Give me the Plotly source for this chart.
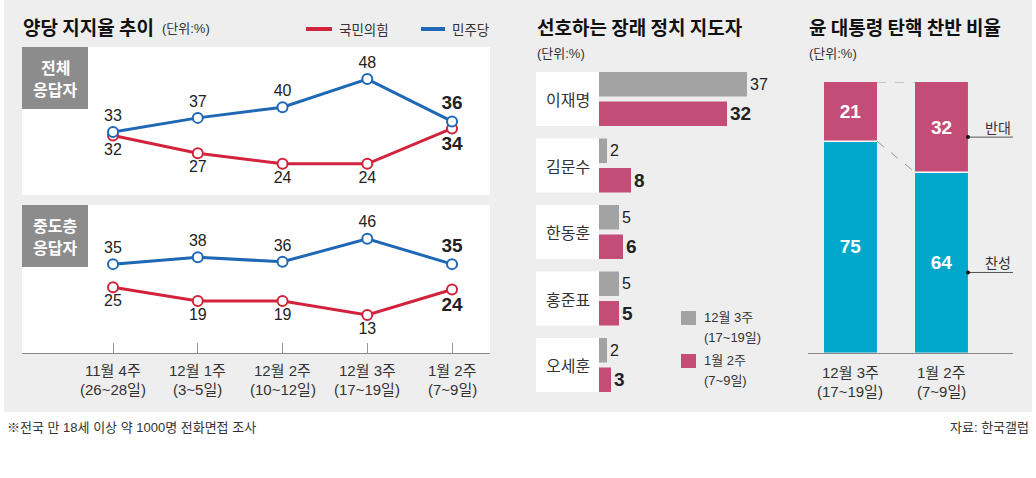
import plotly.graph_objects as go

W, H = 1036, 478

# ---------------- data ----------------
weeks = ["11월 4주", "12월 1주", "12월 2주", "12월 3주", "1월 2주"]
week_dates = ["(26~28일)", "(3~5일)", "(10~12일)", "(17~19일)", "(7~9일)"]
all_dem = [33, 37, 40, 48, 36]
all_ppp = [32, 27, 24, 24, 34]
mid_dem = [35, 38, 36, 46, 35]
mid_ppp = [25, 19, 19, 13, 24]

leaders = ["이재명", "김문수", "한동훈", "홍준표", "오세훈"]
leader_dec = [37, 2, 5, 5, 2]
leader_jan = [32, 8, 6, 5, 3]
leader_legend = [("12월 3주", "(17~19일)"), ("1월 2주", "(7~9일)")]

imp_periods = ["12월 3주", "1월 2주"]
imp_dates = ["(17~19일)", "(7~9일)"]
imp_for = [75, 64]
imp_against = [21, 32]

# ---------------- style ----------------
BLUE = "#1f68b5"
RED = "#d2233d"
PINK = "#c34d76"
GRAYBAR = "#a3a3a3"
TEAL = "#02a8cc"
BG = "#eeeeee"
LABELBOX = "#8c8c8c"
TXT = "#222222"
KR = "Noto Sans CJK KR, sans-serif"
NUM = "Liberation Sans, Arial, Noto Sans CJK KR, sans-serif"


def X(px):
    return px / W


def Y(py):
    return 1 - py / H


fig = go.Figure()


# ---------------- line charts ----------------
def line_trace(vals, color, xa, ya, pos):
    text = [str(v) for v in vals[:-1]] + [f"<b>{vals[-1]}</b>"]
    sizes = [16] * (len(vals) - 1) + [19]
    return go.Scatter(
        x=weeks, y=vals, xaxis=xa, yaxis=ya,
        mode="lines+markers+text",
        line=dict(color=color, width=3),
        marker=dict(symbol="circle", size=10, color="white",
                    line=dict(color=color, width=2)),
        text=text, textposition=pos,
        textfont=dict(size=sizes, color=TXT, family=NUM),
        cliponaxis=False, hoverinfo="skip",
    )


fig.add_trace(line_trace(all_ppp, RED, "x", "y", "bottom center"))
fig.add_trace(line_trace(all_dem, BLUE, "x", "y", "top center"))
fig.add_trace(line_trace(mid_ppp, RED, "x2", "y2", "bottom center"))
fig.add_trace(line_trace(mid_dem, BLUE, "x2", "y2", "top center"))

# ---------------- leaders bar chart ----------------
fig.add_trace(go.Bar(
    y=leaders, x=leader_dec, orientation="h", xaxis="x3", yaxis="y3",
    marker=dict(color=GRAYBAR, line=dict(width=0)),
    text=[str(v) for v in leader_dec], textposition="outside",
    textfont=dict(size=16, color=TXT, family=NUM),
    constraintext="none", cliponaxis=False, hoverinfo="skip",
))
fig.add_trace(go.Bar(
    y=leaders, x=leader_jan, orientation="h", xaxis="x3", yaxis="y3",
    marker=dict(color=PINK, line=dict(width=0)),
    text=[f"<b>{v}</b>" for v in leader_jan], textposition="outside",
    textfont=dict(size=19, color=TXT, family=NUM),
    constraintext="none", cliponaxis=False, hoverinfo="skip",
))

# ---------------- impeachment stacked bars ----------------
BW = 0.582
fig.add_trace(go.Bar(
    x=imp_periods, y=imp_for, xaxis="x4", yaxis="y4",
    width=BW, offset=-BW / 2,
    marker=dict(color=TEAL, line=dict(width=0)),
    text=[f"<b>{v}</b>" for v in imp_for], textposition="inside",
    insidetextanchor="middle", textangle=0,
    textfont=dict(size=19, color="white", family=NUM),
    hoverinfo="skip",
))
fig.add_trace(go.Bar(
    x=imp_periods, y=imp_against, base=imp_for, xaxis="x4", yaxis="y4",
    width=BW, offset=-BW / 2,
    marker=dict(color=PINK, line=dict(width=0)),
    text=[f"<b>{v}</b>" for v in imp_against], textposition="inside",
    insidetextanchor="middle", textangle=0,
    textfont=dict(size=19, color="white", family=NUM),
    hoverinfo="skip",
))

shapes = []
ann = []

# background panel
shapes.append(dict(type="rect", xref="paper", yref="paper", layer="below",
                   x0=X(4), x1=X(1032), y0=Y(412), y1=Y(0),
                   fillcolor=BG, line=dict(width=0)))

# white boxes of line charts + grey label boxes
for top, bot, lab_bot, (l1, l2) in [(47, 195, 109, ("전체", "응답자")),
                                    (205, 353, 267, ("중도층", "응답자"))]:
    shapes.append(dict(type="rect", xref="paper", yref="paper", layer="below",
                       x0=X(22), x1=X(490), y0=Y(bot), y1=Y(top),
                       fillcolor="white", line=dict(width=0)))
    shapes.append(dict(type="rect", xref="paper", yref="paper", layer="below",
                       x0=X(22), x1=X(88), y0=Y(lab_bot), y1=Y(top),
                       fillcolor=LABELBOX, line=dict(width=0)))
    mid = (top + lab_bot) / 2
    for txt, dy in [(l1, -11), (l2, 11)]:
        ann.append(dict(xref="paper", yref="paper", x=X(55), y=Y(mid + dy),
                        text=f"<b>{txt}</b>", showarrow=False, xanchor="center",
                        yanchor="middle", font=dict(size=16, color="white", family=KR)))

# x labels for line charts
for w, d in zip(weeks, week_dates):
    ann.append(dict(xref="x2", yref="paper", x=w, y=Y(370), text=w, showarrow=False,
                    xanchor="center", yanchor="middle",
                    font=dict(size=15, color="#333", family=NUM)))
    ann.append(dict(xref="x2", yref="paper", x=w, y=Y(389), text=d, showarrow=False,
                    xanchor="center", yanchor="middle",
                    font=dict(size=15, color="#333", family=NUM)))

# left title & legend
ann.append(dict(xref="paper", yref="paper", x=X(21), y=Y(27), text="<b>양당 지지율 추이</b>",
                showarrow=False, xanchor="left", yanchor="middle",
                font=dict(size=19, color="#111", family=KR)))
ann.append(dict(xref="paper", yref="paper", x=X(160), y=Y(28), text="(단위:%)",
                showarrow=False, xanchor="left", yanchor="middle",
                font=dict(size=13, color="#333", family=NUM)))
for x0, x1, col, lab in [(306, 332, RED, "국민의힘"), (421, 445, BLUE, "민주당")]:
    shapes.append(dict(type="line", xref="paper", yref="paper", x0=X(x0), x1=X(x1),
                       y0=Y(29), y1=Y(29), line=dict(color=col, width=4)))
    ann.append(dict(xref="paper", yref="paper", x=X(x1 + 5), y=Y(29), text=lab,
                    showarrow=False, xanchor="left", yanchor="middle",
                    font=dict(size=13.5, color="#333", family=KR)))

# middle title
ann.append(dict(xref="paper", yref="paper", x=X(535), y=Y(27), text="<b>선호하는 장래 정치 지도자</b>",
                showarrow=False, xanchor="left", yanchor="middle",
                font=dict(size=19, color="#111", family=KR)))
ann.append(dict(xref="paper", yref="paper", x=X(535), y=Y(53), text="(단위:%)",
                showarrow=False, xanchor="left", yanchor="middle",
                font=dict(size=13, color="#333", family=NUM)))

# name boxes
HALF = 0.406
for i, name in enumerate(leaders):
    shapes.append(dict(type="rect", xref="paper", yref="y3", layer="below",
                       x0=X(536), x1=X(599), y0=i - HALF, y1=i + HALF,
                       fillcolor="white", line=dict(width=0)))
    ann.append(dict(xref="paper", yref="y3", x=X(567.5), y=name, text=name,
                    showarrow=False, xanchor="center", yanchor="middle",
                    font=dict(size=16, color="#333", family=KR)))

# middle legend
for (l1, l2), col, top in zip(leader_legend, [GRAYBAR, PINK], [311, 354]):
    shapes.append(dict(type="rect", xref="paper", yref="paper",
                       x0=X(681), x1=X(696), y0=Y(top + 14), y1=Y(top),
                       fillcolor=col, line=dict(width=0)))
    ann.append(dict(xref="paper", yref="paper", x=X(702), y=Y(top + 6), text=l1,
                    showarrow=False, xanchor="left", yanchor="middle",
                    font=dict(size=13, color="#333", family=NUM)))
    ann.append(dict(xref="paper", yref="paper", x=X(702), y=Y(top + 26), text=l2,
                    showarrow=False, xanchor="left", yanchor="middle",
                    font=dict(size=13, color="#333", family=NUM)))

# right title
ann.append(dict(xref="paper", yref="paper", x=X(807), y=Y(27), text="<b>윤 대통령 탄핵 찬반 비율</b>",
                showarrow=False, xanchor="left", yanchor="middle",
                font=dict(size=19, color="#111", family=KR)))
ann.append(dict(xref="paper", yref="paper", x=X(807), y=Y(53), text="(단위:%)",
                showarrow=False, xanchor="left", yanchor="middle",
                font=dict(size=13, color="#333", family=NUM)))

# connectors between impeachment bars
tot = [a + b for a, b in zip(imp_for, imp_against)]
for v in (tot, imp_for):
    shapes.append(dict(type="line", xref="x4", yref="y4",
                       x0=BW / 2, x1=1 - BW / 2, y0=v[0], y1=v[1],
                       line=dict(color="#999", width=1, dash="dash")))
# white separators
for i, v in enumerate(imp_for):
    shapes.append(dict(type="line", xref="x4", yref="y4",
                       x0=i - BW / 2, x1=i + BW / 2, y0=v, y1=v,
                       line=dict(color="white", width=1.5)))
# callouts
CX0 = 1 + BW / 2
CX1 = CX0 + 45 / 91
for lab, yv in [("반대", imp_for[1] + imp_against[1] / 2), ("찬성", imp_for[1] / 2)]:
    shapes.append(dict(type="line", xref="x4", yref="y4", ysizemode="pixel", yanchor=yv,
                       x0=CX0, x1=CX1, y0=-10, y1=-10, line=dict(color="#555", width=1)))
    shapes.append(dict(type="circle", xref="x4", yref="y4", xsizemode="pixel",
                       ysizemode="pixel", xanchor=CX0, yanchor=yv,
                       x0=-2, x1=2, y0=-12, y1=-8, fillcolor="#111", line=dict(width=0)))
    ann.append(dict(xref="x4", yref="y4", x=CX1, y=yv, text=lab, showarrow=False,
                    xanchor="right", yanchor="middle",
                    font=dict(size=14, color="#333", family=KR)))
for p, d in zip(imp_periods, imp_dates):
    ann.append(dict(xref="x4", yref="paper", x=p, y=Y(372), text=p, showarrow=False,
                    xanchor="center", yanchor="middle",
                    font=dict(size=15, color="#333", family=NUM)))
    ann.append(dict(xref="x4", yref="paper", x=p, y=Y(391), text=d, showarrow=False,
                    xanchor="center", yanchor="middle",
                    font=dict(size=15, color="#333", family=NUM)))

# footnotes
ann.append(dict(xref="paper", yref="paper", x=X(5), y=Y(427),
                text="※전국 만 18세 이상 약 1000명 전화면접 조사", showarrow=False,
                xanchor="left", yanchor="middle",
                font=dict(size=13, color="#333", family=NUM)))
ann.append(dict(xref="paper", yref="paper", x=X(1031), y=Y(427),
                text="자료: 한국갤럽", showarrow=False,
                xanchor="right", yanchor="middle",
                font=dict(size=13, color="#333", family=NUM)))

hidden = dict(visible=False, showgrid=False, zeroline=False, fixedrange=True)

fig.update_layout(
    width=W, height=H, margin=dict(l=0, r=0, t=0, b=0),
    paper_bgcolor="white", plot_bgcolor="rgba(0,0,0,0)",
    showlegend=False, barmode="group", bargap=0.113, bargroupgap=0.17,
    hovermode=False,
    xaxis=dict(hidden, type="category", domain=[X(22), X(490)], range=[-1.074, 4.448],
               anchor="y"),
    yaxis=dict(hidden, domain=[Y(195), Y(47)], range=[15.15, 57.08], anchor="x"),
    xaxis2=dict(type="category", domain=[X(22), X(490)], range=[-1.074, 4.448],
                anchor="y2", showgrid=False, zeroline=False, showticklabels=False,
                showline=True, linecolor="#888", linewidth=1, fixedrange=True,
                ticks="inside", ticklen=10, tickcolor="#999", tickwidth=1),
    yaxis2=dict(hidden, domain=[Y(353), Y(205)], range=[-3.48, 60.6], anchor="x2"),
    xaxis3=dict(hidden, domain=[X(599), X(779)], range=[0, 45], anchor="y3"),
    yaxis3=dict(hidden, type="category", domain=[Y(398.25), Y(65.75)],
                range=[4.5, -0.5], anchor="x3"),
    xaxis4=dict(type="category", domain=[X(808), X(1013)], range=[-0.467, 1.786],
                anchor="y4", showgrid=False, zeroline=False, showticklabels=False,
                showline=True, linecolor="#888", linewidth=1, ticks="", fixedrange=True),
    yaxis4=dict(hidden, domain=[Y(352.7), Y(82)], range=[0, 96], anchor="x4"),
    shapes=shapes, annotations=ann,
)

fig.write_html("out.html", config={"displayModeBar": False, "staticPlot": True},
               post_script="document.body.style.margin='0';")
